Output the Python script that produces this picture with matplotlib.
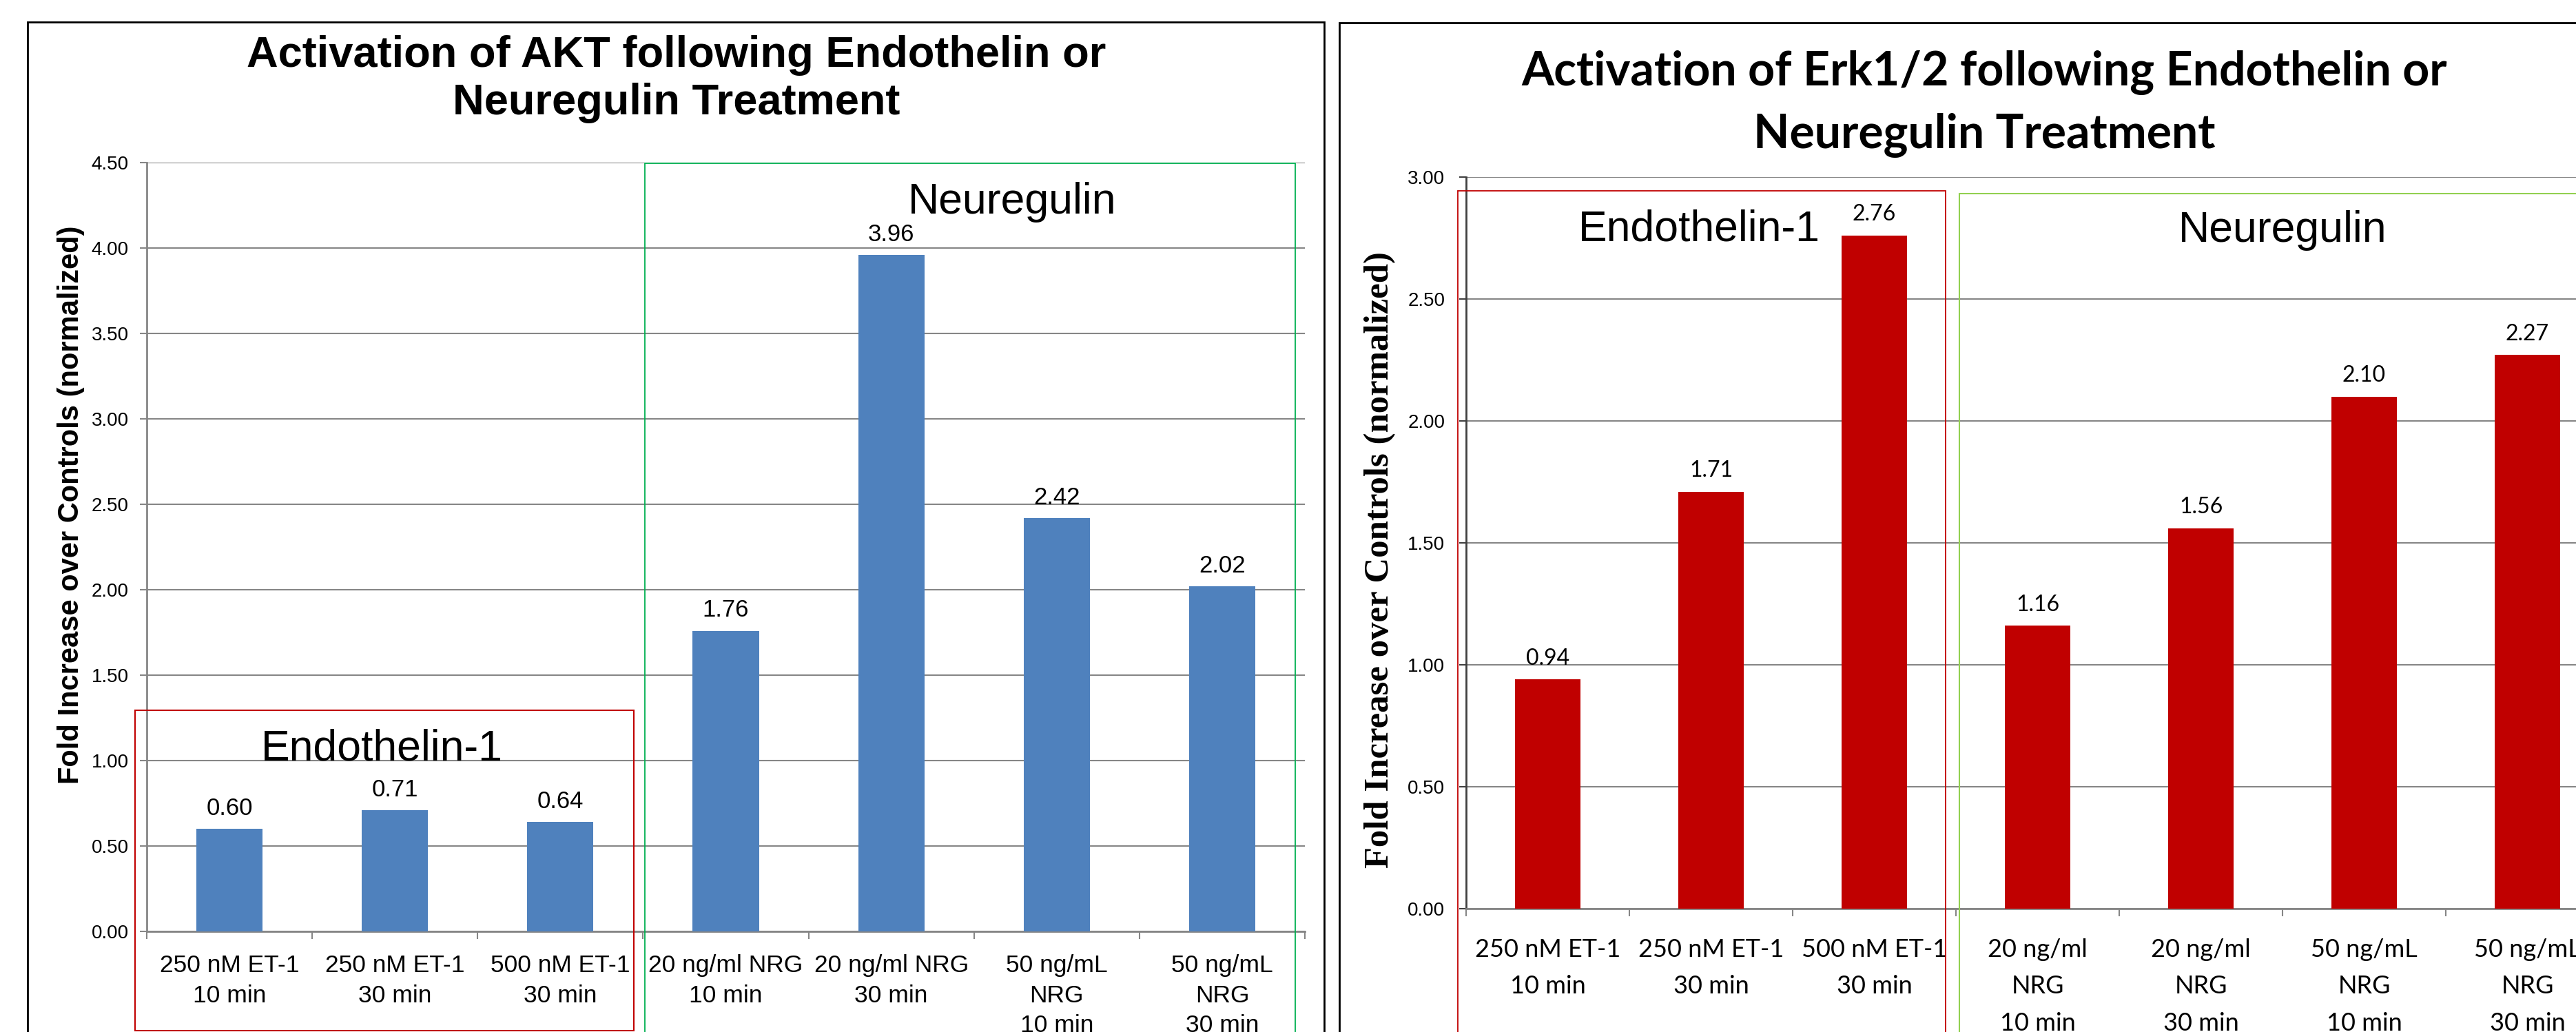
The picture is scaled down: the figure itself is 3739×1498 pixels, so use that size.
import matplotlib
matplotlib.use('Agg')
import matplotlib.pyplot as plt
from matplotlib.patches import Rectangle

## data
akt_labels = ['250 nM ET-1\n10 min', '250 nM ET-1\n30 min', '500 nM ET-1\n30 min',
              '20 ng/ml NRG\n10 min', '20 ng/ml NRG\n30 min',
              '50 ng/mL\nNRG\n10 min', '50 ng/mL\nNRG\n30 min']
akt_values = [0.60, 0.71, 0.64, 1.76, 3.96, 2.42, 2.02]
akt_yticks = [0.0, 0.5, 1.0, 1.5, 2.0, 2.5, 3.0, 3.5, 4.0, 4.5]

erk_labels = ['250 nM ET-1\n10 min', '250 nM ET-1\n30 min', '500 nM ET-1\n30 min',
              '20 ng/ml\nNRG\n10 min', '20 ng/ml\nNRG\n30 min',
              '50 ng/mL\nNRG\n10 min', '50 ng/mL\nNRG\n30 min']
erk_values = [0.94, 1.71, 2.76, 1.16, 1.56, 2.10, 2.27]
erk_yticks = [0.0, 0.5, 1.0, 1.5, 2.0, 2.5, 3.0]

ylabel = 'Fold Increase over Controls (normalized)'

W, H = 3739, 1498
fig = plt.figure(figsize=(W / 100, H / 100), dpi=100)

def fx(x): return x / W
def fy(y): return 1 - y / H

def frame(x0, y0, x1, y1, color, lw):
    fig.add_artist(Rectangle((fx(x0), fy(y1)), fx(x1) - fx(x0), fy(y0) - fy(y1),
                             transform=fig.transFigure, fill=False, ec=color, lw=lw))

def bar_panel(ax, labels, values, yticks, color, spine_col, lab_font, lab_size, lab_off,
              tick_font, tick_size, xpad, lspace, ypad):
    x = list(range(len(values)))
    ax.set_facecolor('none')
    ax.bar(x, values, width=0.4, color=color, zorder=3)
    ax.set_xlim(-0.5, len(values) - 0.5)
    ax.set_ylim(0, yticks[-1])
    ax.set_yticks(yticks)
    ax.set_yticklabels([f'{t:.2f}' for t in yticks], fontsize=20, family='Liberation Sans')
    ax.yaxis.grid(True, color='#868686', lw=1.5)
    ax.set_axisbelow(True)
    ax.set_xticks(x)
    ax.set_xticklabels(labels, fontsize=tick_size, family=tick_font, linespacing=lspace)
    ax.set_xticks([i - 0.5 for i in range(len(values) + 1)], minor=True)
    ax.tick_params(axis='x', which='major', length=0, pad=xpad)
    ax.tick_params(axis='x', which='minor', length=8, width=1.5, color='#868686')
    ax.tick_params(axis='y', length=7, width=1.5, color=spine_col, pad=ypad)
    for s in ['top', 'right']:
        ax.spines[s].set_visible(False)
    ax.spines['left'].set_color(spine_col)
    ax.spines['left'].set_linewidth(2)
    ax.spines['bottom'].set_color('#868686')
    ax.spines['bottom'].set_linewidth(2)
    for xi, v in zip(x, values):
        ax.annotate(f'{v:.2f}', (xi, v), xytext=(0, lab_off), textcoords='offset points',
                    ha='center', va='baseline', fontsize=lab_size, family=lab_font)

# left panel: AKT
ax1 = fig.add_axes([fx(213), fy(1352), (1894 - 213) / W, (1352 - 236) / H])
bar_panel(ax1, akt_labels, akt_values, akt_yticks, '#4F81BD', '#868686',
          'Liberation Sans', 25, 14.5, 'Liberation Sans', 25.5, 23.5, 1.42, 12)
ax1.set_ylabel(ylabel, fontsize=30, fontweight='bold', family='Liberation Sans', va='center')
ax1.yaxis.set_label_coords((103 - 213) / 1681, (1352 - 733) / 1116)

# right panel: Erk1/2
ax2 = fig.add_axes([fx(2128), fy(1319), (3787 - 2128) / W, (1319 - 257) / H])
bar_panel(ax2, erk_labels, erk_values, erk_yticks, '#C00000', '#404040',
          'Lato', 23, 15.5, 'Lato', 26, 31, 1.75, 15)
ax2.set_ylabel(ylabel, fontsize=36.5, fontweight='bold', family='Liberation Serif', va='center')
ax2.yaxis.set_label_coords((2003 - 2128) / 1659, (1319 - 813) / 1062)

# chart borders
frame(40, 32, 1922, 1530, 'black', 2)
frame(1944, 33, 3790, 1530, 'black', 2)

# titles
fig.text(fx(982), fy(97), 'Activation of AKT following Endothelin or', ha='center', va='baseline',
         fontsize=45.5, fontweight='bold', family='Liberation Sans')
fig.text(fx(982), fy(166), 'Neuregulin Treatment', ha='center', va='baseline',
         fontsize=45.5, fontweight='bold', family='Liberation Sans')
fig.text(fx(2880), fy(124), 'Activation of Erk1/2 following Endothelin or', ha='center', va='baseline',
         fontsize=49, fontweight='bold', family='Lato')
fig.text(fx(2880), fy(215), 'Neuregulin Treatment', ha='center', va='baseline',
         fontsize=49, fontweight='bold', family='Lato')

# group boxes
frame(196, 1031, 920, 1496, '#C00000', 1.5)
frame(936, 237, 1880, 1530, '#00B050', 1.3)
frame(2116, 277, 2824, 1530, '#C00000', 1.3)
frame(2844, 281, 3790, 1530, '#92D050', 1.5)

fig.text(fx(1469), fy(310), 'Neuregulin', ha='center', va='baseline', fontsize=45, family='Liberation Sans')
fig.text(fx(554), fy(1104), 'Endothelin-1', ha='center', va='baseline', fontsize=45, family='Liberation Sans')
fig.text(fx(2466), fy(349), 'Endothelin-1', ha='center', va='baseline', fontsize=45, family='Liberation Sans')
fig.text(fx(3313), fy(351), 'Neuregulin', ha='center', va='baseline', fontsize=45, family='Liberation Sans')

fig.savefig('out.png', dpi=100)
